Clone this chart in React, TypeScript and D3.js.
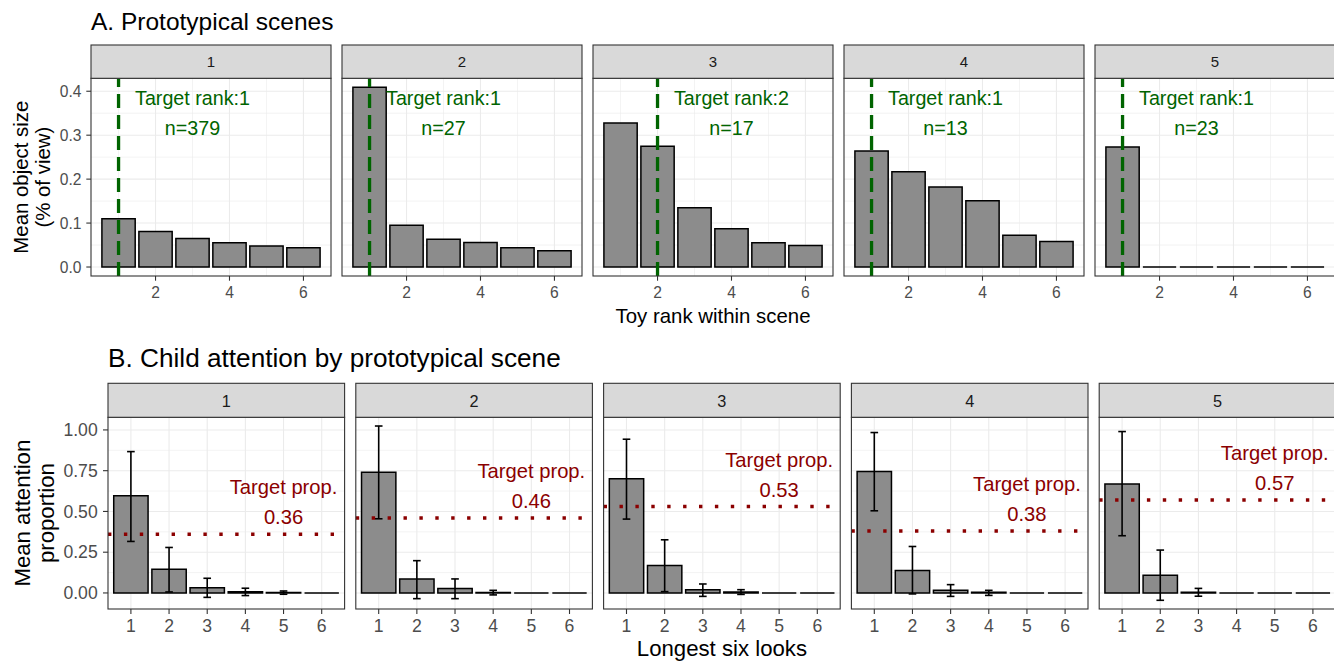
import React from "react";
import * as d3 from "d3";

// ---------- data ----------
const scenes = ["1", "2", "3", "4", "5"];
const toyRanks = [1, 2, 3, 4, 5, 6];
const sizeScene1 = [0.11, 0.081, 0.065, 0.055, 0.048, 0.044];
const sizeScene2 = [0.409, 0.095, 0.063, 0.056, 0.044, 0.037];
const sizeScene3 = [0.328, 0.275, 0.135, 0.087, 0.055, 0.049];
const sizeScene4 = [0.264, 0.217, 0.182, 0.151, 0.072, 0.058];
const sizeScene5 = [0.273, 0, 0, 0, 0, 0];
const targetRank = [1, 1, 2, 1, 1];
const sceneN = [379, 27, 17, 13, 23];

const looks = [1, 2, 3, 4, 5, 6];
const attnMean1 = [0.596, 0.145, 0.032, 0.007, 0.002, 0];
const attnLow1 = [0.316, 0.006, -0.027, -0.016, -0.008, 0];
const attnHigh1 = [0.867, 0.279, 0.09, 0.029, 0.012, 0];
const attnMean2 = [0.741, 0.086, 0.028, 0.003, 0, 0];
const attnLow2 = [0.455, -0.035, -0.035, -0.012, 0, 0];
const attnHigh2 = [1.024, 0.198, 0.086, 0.016, 0, 0];
const attnMean3 = [0.7, 0.169, 0.02, 0.006, 0, 0];
const attnLow3 = [0.453, 0.008, -0.021, -0.009, 0, 0];
const attnHigh3 = [0.943, 0.326, 0.055, 0.02, 0, 0];
const attnMean4 = [0.745, 0.138, 0.016, 0.005, 0, 0];
const attnLow4 = [0.504, -0.006, -0.021, -0.015, 0, 0];
const attnHigh4 = [0.984, 0.285, 0.051, 0.016, 0, 0];
const attnMean5 = [0.669, 0.108, 0.004, 0, 0, 0];
const attnLow5 = [0.351, -0.045, -0.02, 0, 0, 0];
const attnHigh5 = [0.99, 0.263, 0.028, 0, 0, 0];
const targetProp = [0.36, 0.46, 0.53, 0.38, 0.57];

const topYTicks = [0, 0.1, 0.2, 0.3, 0.4];
const topYMinor = [0.05, 0.15, 0.25, 0.35];
const topXTicks = [2, 4, 6];
const topXMinor = [1, 3, 5];
const botYTicks = [0, 0.25, 0.5, 0.75, 1];
const botYMinor = [0.125, 0.375, 0.625, 0.875];
const botXTicks = [1, 2, 3, 4, 5, 6];

const sizeByScene = [sizeScene1, sizeScene2, sizeScene3, sizeScene4, sizeScene5];
const meanByScene = [attnMean1, attnMean2, attnMean3, attnMean4, attnMean5];
const lowByScene = [attnLow1, attnLow2, attnLow3, attnLow4, attnLow5];
const highByScene = [attnHigh1, attnHigh2, attnHigh3, attnHigh4, attnHigh5];

// ---------- layout ----------
const W = 1334;
const H = 661;
const FONT = "'Liberation Sans', Arial, Helvetica, sans-serif";
const GRID = "#EBEBEB";
const DARK = "#333333";
const TICKTXT = "#4D4D4D";
const BARFILL = "#8C8C8C";

const TOP = { x0: 91, step: 251, w: 240, stripTop: 45, panelTop: 78.3, panelBottom: 276 };
const BOT = { x0: 108, step: 247.8, w: 236.6, stripTop: 383.3, panelTop: 417.3, panelBottom: 609 };

function expand(lo: number, hi: number, m = 0.05): [number, number] {
  const d = hi - lo;
  return [lo - d * m, hi + d * m];
}

function barPath(xl: number, xr: number, yb: number, yt: number) {
  const p = d3.path();
  p.moveTo(xl, yb);
  p.lineTo(xr, yb);
  p.lineTo(xr, yt);
  p.lineTo(xl, yt);
  p.closePath();
  return p.toString();
}

function TopPanel({ i }: { i: number }) {
  const x0 = TOP.x0 + i * TOP.step;
  const x1 = x0 + TOP.w;
  const allMax = d3.max(sizeByScene.flat()) as number;
  const y = d3.scaleLinear().domain(expand(0, allMax)).range([TOP.panelBottom, TOP.panelTop]);
  const x = d3.scaleLinear().domain(expand(0.55, 6.45)).range([x0, x1]);
  const bw = x(0.9) - x(0);
  const vals = sizeByScene[i];
  const lx = x(targetRank[i] + 2);
  const ly = y(0.35);
  return (
    <g>
      {topYMinor.map((v) => (
        <line key={"ym" + v} x1={x0} x2={x1} y1={y(v)} y2={y(v)} stroke={GRID} strokeWidth={0.6} />
      ))}
      {topXMinor.map((v) => (
        <line key={"xm" + v} y1={TOP.panelTop} y2={TOP.panelBottom} x1={x(v)} x2={x(v)} stroke={GRID} strokeWidth={0.6} />
      ))}
      {topYTicks.map((v) => (
        <line key={"yM" + v} x1={x0} x2={x1} y1={y(v)} y2={y(v)} stroke={GRID} strokeWidth={1.1} />
      ))}
      {topXTicks.map((v) => (
        <line key={"xM" + v} y1={TOP.panelTop} y2={TOP.panelBottom} x1={x(v)} x2={x(v)} stroke={GRID} strokeWidth={1.1} />
      ))}
      {toyRanks.map((r, k) => (
        <path
          key={"b" + r}
          d={barPath(x(r) - bw / 2, x(r) + bw / 2, y(0), y(vals[k]))}
          fill={BARFILL}
          stroke="#000"
          strokeWidth={1.5}
        />
      ))}
      <line
        x1={x(targetRank[i])}
        x2={x(targetRank[i])}
        y1={TOP.panelBottom}
        y2={TOP.panelTop}
        stroke="#006400"
        strokeWidth={3.3}
        strokeDasharray="14 7"
      />
      <text x={lx} y={ly - 8.4} textAnchor="middle" fontSize={19.7} fill="#006400" fontFamily={FONT}>
        {"Target rank:" + targetRank[i]}
      </text>
      <text x={lx} y={ly + 21.6} textAnchor="middle" fontSize={19.7} fill="#006400" fontFamily={FONT}>
        {"n=" + sceneN[i]}
      </text>
      <rect x={x0} y={TOP.panelTop} width={TOP.w} height={TOP.panelBottom - TOP.panelTop} fill="none" stroke={DARK} strokeWidth={1.1} />
      <rect x={x0} y={TOP.stripTop} width={TOP.w} height={TOP.panelTop - TOP.stripTop} fill="#D9D9D9" stroke={DARK} strokeWidth={1.1} />
      <text x={(x0 + x1) / 2} y={67.3} textAnchor="middle" fontSize={15} fill="#1A1A1A" fontFamily={FONT}>
        {scenes[i]}
      </text>
      {topXTicks.map((v) => (
        <g key={"xt" + v}>
          <line x1={x(v)} x2={x(v)} y1={TOP.panelBottom} y2={TOP.panelBottom + 4.7} stroke={DARK} strokeWidth={1.1} />
          <text x={x(v)} y={297.9} textAnchor="middle" fontSize={15.6} fill={TICKTXT} fontFamily={FONT}>
            {String(v)}
          </text>
        </g>
      ))}
      {i === 0 &&
        topYTicks.map((v) => (
          <g key={"yt" + v}>
            <line x1={x0 - 4.7} x2={x0} y1={y(v)} y2={y(v)} stroke={DARK} strokeWidth={1.1} />
            <text x={x0 - 9.5} y={y(v) + 5.6} textAnchor="end" fontSize={15.6} fill={TICKTXT} fontFamily={FONT}>
              {d3.format(".1f")(v)}
            </text>
          </g>
        ))}
    </g>
  );
}

function BotPanel({ i }: { i: number }) {
  const x0 = BOT.x0 + i * BOT.step;
  const x1 = x0 + BOT.w;
  const lo = d3.min(lowByScene.flat()) as number;
  const hi = d3.max(highByScene.flat()) as number;
  const y = d3.scaleLinear().domain(expand(Math.min(0, lo), hi)).range([BOT.panelBottom, BOT.panelTop]);
  const x = d3.scaleLinear().domain([0.4, 6.6]).range([x0, x1]);
  const bw = x(0.9) - x(0);
  const cw = x(0.2) - x(0);
  const m = meanByScene[i];
  const l = lowByScene[i];
  const h = highByScene[i];
  const ty = y(targetProp[i]);
  const ly = y(targetProp[i] + 0.2);
  const lx = x(5);
  return (
    <g>
      {botYMinor.map((v) => (
        <line key={"ym" + v} x1={x0} x2={x1} y1={y(v)} y2={y(v)} stroke={GRID} strokeWidth={0.6} />
      ))}
      {botYTicks.map((v) => (
        <line key={"yM" + v} x1={x0} x2={x1} y1={y(v)} y2={y(v)} stroke={GRID} strokeWidth={1.1} />
      ))}
      {botXTicks.map((v) => (
        <line key={"xM" + v} y1={BOT.panelTop} y2={BOT.panelBottom} x1={x(v)} x2={x(v)} stroke={GRID} strokeWidth={1.1} />
      ))}
      {looks.map((r, k) => (
        <path
          key={"b" + r}
          d={barPath(x(r) - bw / 2, x(r) + bw / 2, y(0), y(m[k]))}
          fill={BARFILL}
          stroke="#000"
          strokeWidth={1.5}
        />
      ))}
      {looks.map((r, k) =>
        h[k] - l[k] > 0 ? (
          <g key={"e" + r} stroke="#000" strokeWidth={1.6}>
            <line x1={x(r)} x2={x(r)} y1={y(l[k])} y2={y(h[k])} />
            <line x1={x(r) - cw / 2} x2={x(r) + cw / 2} y1={y(l[k])} y2={y(l[k])} />
            <line x1={x(r) - cw / 2} x2={x(r) + cw / 2} y1={y(h[k])} y2={y(h[k])} />
          </g>
        ) : null
      )}
      <line x1={x0} x2={x1} y1={ty} y2={ty} stroke="#8B0000" strokeWidth={3.4} strokeDasharray="3.4 12.5" />
      <text x={lx} y={ly - 7.3} textAnchor="middle" fontSize={20.2} fill="#8B0000" fontFamily={FONT}>
        Target prop.
      </text>
      <text x={lx} y={ly + 22.7} textAnchor="middle" fontSize={20.2} fill="#8B0000" fontFamily={FONT}>
        {d3.format(".2f")(targetProp[i])}
      </text>
      <rect x={x0} y={BOT.panelTop} width={BOT.w} height={BOT.panelBottom - BOT.panelTop} fill="none" stroke={DARK} strokeWidth={1.1} />
      <rect x={x0} y={BOT.stripTop} width={BOT.w} height={BOT.panelTop - BOT.stripTop} fill="#D9D9D9" stroke={DARK} strokeWidth={1.1} />
      <text x={(x0 + x1) / 2} y={406.7} textAnchor="middle" fontSize={16.3} fill="#1A1A1A" fontFamily={FONT}>
        {scenes[i]}
      </text>
      {botXTicks.map((v) => (
        <g key={"xt" + v}>
          <line x1={x(v)} x2={x(v)} y1={BOT.panelBottom} y2={BOT.panelBottom + 5} stroke={DARK} strokeWidth={1.1} />
          <text x={x(v)} y={631.7} textAnchor="middle" fontSize={17.6} fill={TICKTXT} fontFamily={FONT}>
            {String(v)}
          </text>
        </g>
      ))}
      {i === 0 &&
        botYTicks.map((v) => (
          <g key={"yt" + v}>
            <line x1={x0 - 5} x2={x0} y1={y(v)} y2={y(v)} stroke={DARK} strokeWidth={1.1} />
            <text x={x0 - 10.3} y={y(v) + 6.3} textAnchor="end" fontSize={17.6} fill={TICKTXT} fontFamily={FONT}>
              {d3.format(".2f")(v)}
            </text>
          </g>
        ))}
    </g>
  );
}

export default function App() {
  const topMidY = (TOP.panelTop + TOP.panelBottom) / 2;
  const botMidY = (BOT.panelTop + BOT.panelBottom) / 2;
  const topMidX = (TOP.x0 + TOP.x0 + 4 * TOP.step + TOP.w) / 2;
  const botMidX = (BOT.x0 + BOT.x0 + 4 * BOT.step + BOT.w) / 2;
  return (
    <svg
      width={W}
      height={H}
      viewBox={`0 0 ${W} ${H}`}
      style={{ position: "absolute", left: 0, top: 0, background: "#fff" }}
    >
      <rect x={0} y={0} width={W} height={H} fill="#fff" />
      <text x={TOP.x0} y={30} fontSize={24.5} fill="#000" fontFamily={FONT}>
        A. Prototypical scenes
      </text>
      {scenes.map((s, i) => (
        <TopPanel key={"t" + s} i={i} />
      ))}
      <text x={topMidX} y={322.7} textAnchor="middle" fontSize={20.4} fill="#000" fontFamily={FONT}>
        Toy rank within scene
      </text>
      <text transform={`translate(27.5,${topMidY}) rotate(-90)`} textAnchor="middle" fontSize={20.4} fill="#000" fontFamily={FONT}>
        Mean object size
      </text>
      <text transform={`translate(49.5,${topMidY}) rotate(-90)`} textAnchor="middle" fontSize={20.4} fill="#000" fontFamily={FONT}>
        (% of view)
      </text>

      <text x={BOT.x0} y={367.3} fontSize={26.2} fill="#000" fontFamily={FONT}>
        B. Child attention by prototypical scene
      </text>
      {scenes.map((s, i) => (
        <BotPanel key={"b" + s} i={i} />
      ))}
      <text x={botMidX} y={655.5} textAnchor="middle" fontSize={22.2} fill="#000" fontFamily={FONT}>
        Longest six looks
      </text>
      <text transform={`translate(30,${botMidY}) rotate(-90)`} textAnchor="middle" fontSize={22.2} fill="#000" fontFamily={FONT}>
        Mean attention
      </text>
      <text transform={`translate(54,${botMidY}) rotate(-90)`} textAnchor="middle" fontSize={22.2} fill="#000" fontFamily={FONT}>
        proportion
      </text>
    </svg>
  );
}
